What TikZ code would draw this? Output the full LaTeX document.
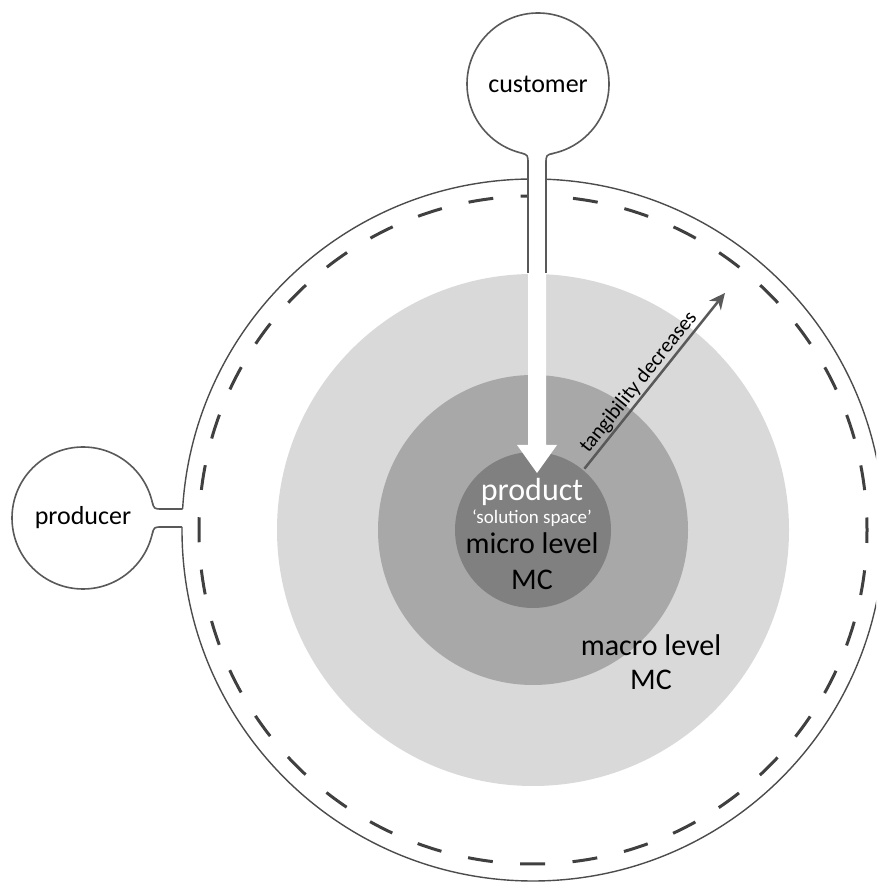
\documentclass[tikz,border=0pt]{standalone}
\usepackage{fontspec}
\setmainfont{Carlito}
\usetikzlibrary{arrows.meta, positioning, calc}

\begin{document}
\begin{tikzpicture}[
    x=1pt, y=1pt,
    >=Stealth,
    actor/.style={draw=black!65, line width=1.6pt, circle, fill=white,
                  minimum size=142pt, inner sep=0pt,
                  font=\fontsize{26}{30}\selectfont},
    disk/.style={circle, inner sep=0pt},
    lbl/.style={inner sep=0pt, font=\fontsize{30}{34}\selectfont},
    stemline/.style={draw=black!65, line width=1.6pt}
  ]
  \useasboundingbox (0,0) rectangle (876,886);
  \clip (0,0) rectangle (876,886);
  \coordinate (c) at (533,356);

  % system boundary
  \node[disk, draw=black!70, line width=1.4pt, minimum size=702pt] (system) at (c) {};
  \draw[black!75, line width=3pt, dash pattern=on 25pt off 27.46pt,
        dash phase=12.5pt] (c) circle[radius=334];

  % levels
  \node[disk, fill=black!15, minimum size=512pt] (macro) at (c) {};
  \node[disk, fill=black!34, minimum size=310pt] (micro) at (c) {};
  \node[disk, fill=black!50, minimum size=156pt] (core) at (c) {};

  % actors
  \node[actor] (customer) at (538,802) {customer};
  \node[actor] (producer) at (83,368) {producer};

  % customer stem and white arrow
  \coordinate (stemL) at ($(customer.center)+(256:71)$);
  \coordinate (stemR) at ($(customer.center)+(283:71)$);
  \fill[white] (stemL) .. controls (528,731) .. (528,722) -- (528,441)
       -- (517,441) -- (537,413) -- (557,441) -- (546,441) -- (546,722)
       .. controls (546,731) .. (stemR) -- ++(0,12) -- ($(stemL)+(0,12)$) -- cycle;
  \draw[stemline] (stemL) .. controls (528,731) .. (528,722) -- (528,613);
  \draw[stemline] (stemR) .. controls (546,731) .. (546,722) -- (546,613);

  % producer neck
  \coordinate (neckT) at ($(producer.center)+(14:71)$);
  \coordinate (neckB) at ($(producer.center)+(-14:71)$);
  \fill[white] (neckT) .. controls (154,377) .. (162,377) -- (188,377)
       -- (188,359) -- (162,359) .. controls (154,359) .. (neckB)
       -- ++(-10,0) -- ($(neckT)+(-10,0)$) -- cycle;
  \draw[stemline] (neckT) .. controls (154,377) .. (162,377) -- (182.6,377);
  \draw[stemline] (neckB) .. controls (154,359) .. (162,359) -- (182,359);

  % tangibility
  \coordinate (tstart) at ($(c)+(50:80)$);
  \coordinate (tend) at ($(c)+(51:305)$);
  \draw[->, black!65, line width=2.5pt, >={Stealth[length=16pt, width=15pt]}]
    (tstart) -- node[pos=0.45, above, sloped, inner sep=1pt, text=black,
                     font=\fontsize{21}{24}\selectfont] {tangibility decreases} (tend);

  % labels
  \node[lbl, text=white, font=\fontsize{32}{36}\selectfont] (prodlbl) at (532,394) {product};
  \node[lbl, text=white, font=\fontsize{19}{22}\selectfont] (spacelbl) at (532,368) {‘solution space’};
  \node[lbl] (microlbl) at (532,343) {micro level};
  \node[lbl] (microMC) at (532,306) {MC};
  \node[lbl] (macrolbl) at (651,241) {macro level};
  \node[lbl] (macroMC) at (651,206) {MC};
\end{tikzpicture}
\end{document}
